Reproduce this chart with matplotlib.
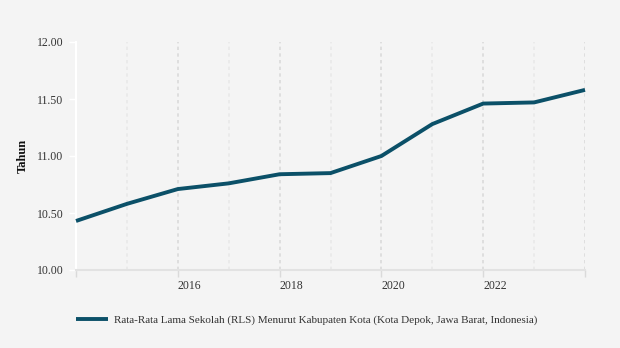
#!/usr/bin/env python3
"""
Rata-Rata Lama Sekolah (RLS) Kota Depok - line chart
"""

import matplotlib.pyplot as plt
import matplotlib.transforms as mtransforms

# Data
years = [2014, 2015, 2016, 2017, 2018, 2019, 2020, 2021, 2022, 2023, 2024]
rls = [10.43, 10.58, 10.71, 10.76, 10.84, 10.85, 11.00, 11.28, 11.46, 11.47, 11.58]
major_years = [2014, 2016, 2018, 2020, 2022, 2024]
label_years = [2016, 2018, 2020, 2022]
series_name = 'Rata-Rata Lama Sekolah (RLS) Menurut Kabupaten Kota (Kota Depok, Jawa Barat, Indonesia)'

bg = '#f4f4f4'
line_color = '#0b5068'
text_color = '#333333'

plt.rcParams['font.family'] = ['Liberation Serif', 'DejaVu Serif']

fig = plt.figure(figsize=(6.2, 3.48), dpi=100)
fig.patch.set_facecolor(bg)
ax = fig.add_axes([76 / 620, 1 - 270 / 348, (585 - 76) / 620, (270 - 42) / 348])
ax.set_facecolor(bg)

ax.plot(years, rls, color=line_color, linewidth=2.8, solid_capstyle='butt',
        label=series_name, zorder=5, clip_on=False)

ax.set_xlim(years[0], years[-1])
ax.set_ylim(10.0, 12.0)
yt = [10.0, 10.5, 11.0, 11.5, 12.0]
ax.set_yticks(yt)
ax.set_yticklabels([f'{v:.2f}' for v in yt], fontsize=8.5, color=text_color)

# major ticks on even years (labels only where shown), minor gridlines on odd years
ax.set_xticks(major_years)
ax.set_xticklabels([str(y) if y in label_years else '' for y in major_years],
                   fontsize=8.5, color=text_color, ha='left')
ax.set_xticks([y for y in years if y not in major_years], minor=True)
offset = mtransforms.ScaledTranslation(3 / 100, 0, fig.dpi_scale_trans)
for lbl in ax.get_xticklabels():
    lbl.set_transform(lbl.get_transform() + offset)

ax.grid(axis='x', which='major', color='#dadada', linestyle=(0, (2, 2)), linewidth=1.2)
ax.grid(axis='x', which='minor', color='#e8e8e8', linestyle=(0, (2, 2)), linewidth=1.2)
ax.set_axisbelow(True)

ax.tick_params(axis='x', which='major', length=5, width=1, color='#dadada', pad=2)
ax.tick_params(axis='x', which='minor', length=0)
ax.tick_params(axis='y', length=5, width=1, color='white', pad=4)

for side in ['top', 'right']:
    ax.spines[side].set_visible(False)
ax.spines['left'].set_color('white')
ax.spines['left'].set_linewidth(1.5)
ax.spines['bottom'].set_color('#e2e2e2')
ax.spines['bottom'].set_linewidth(1.5)

ax.set_ylabel('Tahun', fontsize=9, fontweight='bold', color='#111111', labelpad=6)

leg = fig.legend(loc='center left', bbox_to_anchor=(66 / 620, 1 - 320 / 348),
                 frameon=False, fontsize=8, handlelength=2.9, handletextpad=0.5)
for t in leg.get_texts():
    t.set_color(text_color)

plt.savefig('out.png', dpi=100, facecolor=bg)
plt.close()
